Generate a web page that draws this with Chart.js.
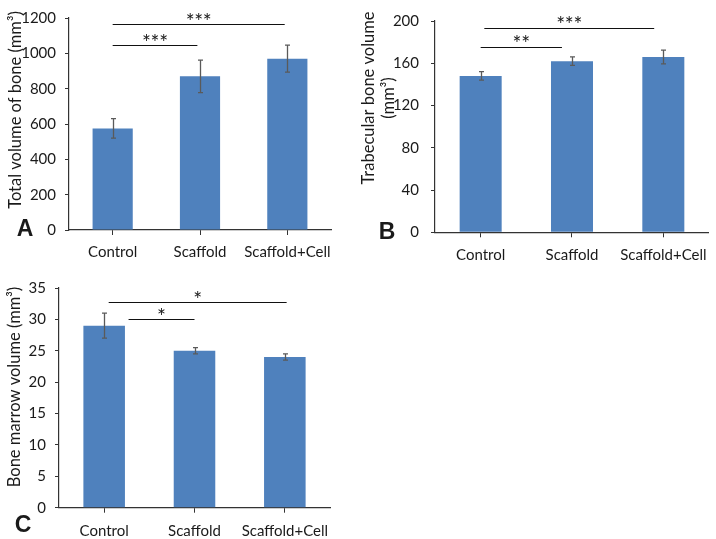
<!DOCTYPE html>
<html>
<head>
<meta charset="utf-8">
<script src="https://cdn.jsdelivr.net/npm/chart.js@4.4.1/dist/chart.umd.min.js"></script>
<style>
  html, body { margin: 0; padding: 0; background: #fff; }
  #wrap { position: relative; width: 716px; height: 539px; }
  canvas { position: absolute; }
</style>
</head>
<body>
<div id="wrap">
  <canvas id="cA" width="360" height="270" style="left:0;top:0"></canvas>
  <canvas id="cB" width="356" height="270" style="left:360px;top:0"></canvas>
  <canvas id="cC" width="360" height="269" style="left:0;top:270px"></canvas>
</div>
<script>
'use strict';

// ── data ───────────────────────────────────────────────
const groups = ['Control', 'Scaffold', 'Scaffold+Cell'];

const totalVolume = [575, 870, 970];
const totalErr    = [55, 92, 76];
const totalTicks  = [0, 200, 400, 600, 800, 1000, 1200];

const trabVolume  = [148, 162, 166];
const trabErr     = [4, 4, 6.5];
const trabTicks   = [0, 40, 80, 120, 160, 200];

const marrowVolume = [29, 25, 24];
const marrowErr    = [2, 0.5, 0.5];
const marrowTicks  = [0, 5, 10, 15, 20, 25, 30, 35];

// significance brackets: [from group, to group], level, stars
const totalSigPairs  = [[0, 1.97], [0, 0.97]];
const totalSigLevel  = [1164, 1046];
const totalSigStars  = ['***', '***'];

const trabSigPairs   = [[0.04, 1.9], [0, 0.89]];
const trabSigLevel   = [193, 175.4];
const trabSigStars   = ['***', '**'];

const marrowSigPairs = [[0.05, 2.02], [0.27, 1.0]];
const marrowSigLevel = [32.8, 30.1];
const marrowSigStars = ['*', '*'];

// ── drawing helpers ────────────────────────────────────
const FONT = 'Lato, "Open Sans", sans-serif';
const INK = '#1a1a1a';

const annot = {
  id: 'annot',
  afterDatasetsDraw(chart, args, o) {
    const ctx = chart.ctx, x = chart.scales.x, y = chart.scales.y;
    ctx.save();
    // error bars
    ctx.strokeStyle = '#5a5a5a';
    ctx.lineWidth = 1.3;
    o.values.forEach((v, i) => {
      const px = Math.round(x.getPixelForValue(i)) + 0.5;
      const t = y.getPixelForValue(v + o.errors[i]);
      const b = y.getPixelForValue(v - o.errors[i]);
      ctx.beginPath();
      ctx.moveTo(px, t); ctx.lineTo(px, b);
      ctx.moveTo(px - 2.5, t); ctx.lineTo(px + 2.5, t);
      ctx.moveTo(px - 2.5, b); ctx.lineTo(px + 2.5, b);
      ctx.stroke();
    });
    // brackets + stars
    ctx.strokeStyle = '#111';
    ctx.lineWidth = 1.2;
    ctx.fillStyle = INK;
    ctx.font = '21px ' + FONT;
    ctx.textAlign = 'center';
    ctx.textBaseline = 'alphabetic';
    o.pairs.forEach((p, i) => {
      const x0 = x.getPixelForValue(p[0]), x1 = x.getPixelForValue(p[1]);
      const py = Math.round(y.getPixelForValue(o.levels[i])) + 0.5;
      ctx.beginPath();
      ctx.moveTo(x0, py); ctx.lineTo(x1, py);
      ctx.stroke();
      const n = o.stars[i].length, mid = (x0 + x1) / 2;
      for (let k = 0; k < n; k++) {
        ctx.fillText('*', mid + (k - (n - 1) / 2) * 8.6, py + o.starDy);
      }
    });
    ctx.restore();
  },
  afterDraw(chart, args, o) {
    const ctx = chart.ctx;
    ctx.save();
    ctx.fillStyle = INK;
    // rotated axis title
    ctx.font = o.titleSize + 'px ' + FONT;
    ctx.textAlign = 'center';
    ctx.textBaseline = 'middle';
    o.title.forEach((line, i) => {
      ctx.save();
      ctx.translate(o.titleX + i * o.titleGap, o.titleY);
      ctx.rotate(-Math.PI / 2);
      ctx.fillText(line, 0, 0);
      ctx.restore();
    });
    // panel letter
    ctx.font = 'bold ' + o.letterSize + 'px "Liberation Sans", Arial, sans-serif';
    ctx.fillText(o.letter, o.letterX, o.letterY);
    ctx.restore();
  }
};

function panel(id, values, errors, ticks, sig, box) {
  return new Chart(document.getElementById(id), {
    type: 'bar',
    data: {
      labels: groups,
      datasets: [{
        data: values,
        backgroundColor: '#4f81bd',
        borderWidth: 0,
        categoryPercentage: 1,
        barPercentage: 0.46,
      }],
    },
    options: {
      responsive: false,
      animation: false,
      events: [],
      layout: { padding: { left: 0, top: box.top, right: box.right, bottom: 0 } },
      plugins: {
        legend: { display: false },
        tooltip: { enabled: false },
        annot: Object.assign({ values, errors }, sig, box.annot),
      },
      scales: {
        x: {
          offset: true,
          grid: { display: true, offset: false, drawOnChartArea: false, tickLength: 5, color: '#333', lineWidth: 1 },
          border: { display: true, color: '#333', width: 1.2 },
          ticks: { color: INK, font: { family: FONT, size: 15 }, padding: box.xPad, maxRotation: 0, autoSkip: false },
          afterFit: s => { s.height = box.xHeight; },
        },
        y: {
          min: ticks[0],
          max: ticks[ticks.length - 1],
          afterBuildTicks: s => { s.ticks = ticks.map(v => ({ value: v })); },
          grid: { display: true, drawOnChartArea: false, tickLength: 4, color: '#333', lineWidth: 1 },
          border: { display: true, color: '#333', width: 1.2 },
          ticks: { color: INK, font: { family: FONT, size: 15 }, padding: box.yPad, callback: v => String(v) },
          afterFit: s => { s.width = box.yWidth; },
        },
      },
    },
    plugins: [annot],
  });
}

panel('cA', totalVolume, totalErr, totalTicks,
  { pairs: totalSigPairs, levels: totalSigLevel, stars: totalSigStars, starDy: 4 },
  { top: 12, right: 29, yWidth: 69, xHeight: 40, xPad: 8, yPad: 9,
    annot: { title: ['Total volume of bone (mm³)'], titleX: 16, titleY: 110, titleGap: 0, titleSize: 16.5,
             letter: 'A', letterX: 25, letterY: 230, letterSize: 23 } });

panel('cB', trabVolume, trabErr, trabTicks,
  { pairs: trabSigPairs, levels: trabSigLevel, stars: trabSigStars, starDy: 3 },
  { top: 7.3, right: 3, yWidth: 75, xHeight: 37.7, xPad: 9, yPad: 12,
    annot: { title: ['Trabecular bone volume', '(mm³)'], titleX: 9, titleY: 98, titleGap: 19.5, titleSize: 16.5,
             letter: 'B', letterX: 27, letterY: 233, letterSize: 23 } });

panel('cC', marrowVolume, marrowErr, marrowTicks,
  { pairs: marrowSigPairs, levels: marrowSigLevel, stars: marrowSigStars, starDy: 4 },
  { top: 15, right: 30, yWidth: 59, xHeight: 31.3, xPad: 9, yPad: 9,
    annot: { title: ['Bone marrow volume (mm³)'], titleX: 15, titleY: 117, titleGap: 0, titleSize: 16.5,
             letter: 'C', letterX: 23, letterY: 256, letterSize: 23 } });
</script>
</body>
</html>
